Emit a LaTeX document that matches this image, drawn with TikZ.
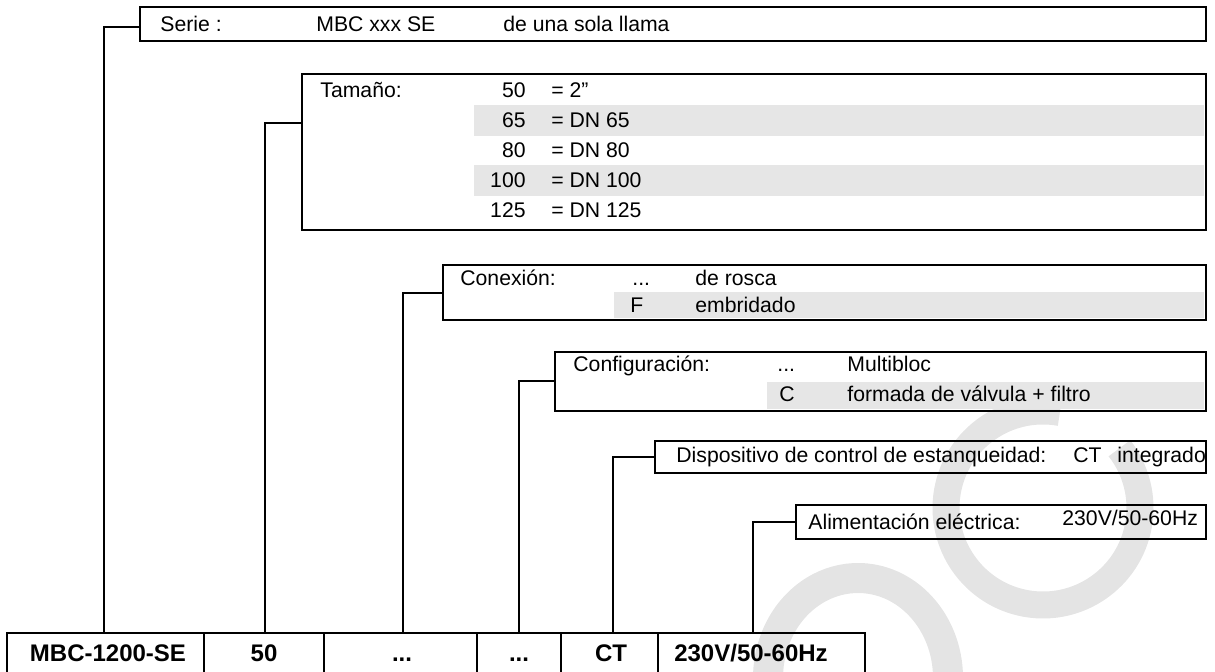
\documentclass[tikz,border=0pt]{standalone}
\usepackage{fontspec}
\setmainfont{Liberation Sans}
\usetikzlibrary{fit}
\definecolor{band}{HTML}{E6E6E6}
\definecolor{wmark}{HTML}{E4E4E4}
\tikzset{
 box/.style={draw=black, line width=1.1pt, inner sep=0pt, rectangle},
 conn/.style={draw=black, line width=1pt},
 cell/.style={draw=black, line width=1pt, inner sep=0pt, rectangle},
 txt/.style={anchor=base west, inner sep=0pt, font=\fontsize{10.6pt}{12pt}\selectfont},
 txtr/.style={txt, anchor=base east},
 tbl/.style={anchor=base, inner sep=0pt, font=\fontsize{12pt}{14pt}\selectfont\bfseries},
 bandfill/.style={fill=band, draw=none},
 wm/.style={draw=wmark, line width=13.5pt},
}
\begin{document}
\begin{tikzpicture}[x=0.5pt,y=-0.5pt]
\useasboundingbox (0,0) rectangle (1215,672);
\begin{scope}
\clip (0,0) rectangle (1215,672);
\draw[wm] (1043,508) ++(-80:97) arc[start angle=-80, end angle=-398, radius=97];
\draw[wm, line width=15pt] (858,678) ++(5:90 and 100) arc[start angle=5, end angle=-185, x radius=90, y radius=100];
\end{scope}
% bands
\fill[bandfill] (474,105) rectangle (1204,136);
\fill[bandfill] (474,165) rectangle (1204,196);
\fill[bandfill] (614,292) rectangle (1204,318);
\fill[bandfill] (767,382) rectangle (1204,409);
% boxes
\node[box, fit={(140,7)(1206,41)}] (serie) {};
\node[box, fit={(302,74)(1206,230)}] (tam) {};
\node[box, fit={(443,265)(1206,320)}] (con) {};
\node[box, fit={(555,352)(1206,411)}] (cfg) {};
\node[box, fit={(655,441)(1206,473)}] (dis) {};
\node[box, fit={(796,505)(1206,539)}] (ali) {};
% table
\node[cell, fit={(7,633)(204,676)}] (k1) {};
\node[cell, fit={(204,633)(324,676)}] (k2) {};
\node[cell, fit={(324,633)(477,676)}] (k3) {};
\node[cell, fit={(477,633)(561,676)}] (k4) {};
\node[cell, fit={(561,633)(658,676)}] (k5) {};
\node[cell, fit={(658,633)(865,676)}] (k6) {};
\node[tbl] (k1t) at (108,662) {MBC-1200-SE};
\node[tbl] (k2t) at (264,662) {50};
\node[tbl] (k3t) at (402,662) {...};
\node[tbl] (k4t) at (519,662) {...};
\node[tbl] (k5t) at (611,662) {CT};
\node[tbl] (k6t) at (751,662) {230V/50-60Hz};
% connectors
\coordinate (j1) at (140,27);  \coordinate (b1) at (103.5,633);
\coordinate (j2) at (302,123); \coordinate (b2) at (265,633);
\coordinate (j3) at (443,293); \coordinate (b3) at (403,633);
\coordinate (j4) at (555,381); \coordinate (b4) at (519,633);
\coordinate (j5) at (655,457); \coordinate (b5) at (613,633);
\coordinate (j6) at (796,522); \coordinate (b6) at (753,633);
\draw[conn] (j1) -| (b1);
\draw[conn] (j2) -| (b2);
\draw[conn] (j3) -| (b3);
\draw[conn] (j4) -| (b4);
\draw[conn] (j5) -| (b5);
\draw[conn] (j6) -| (b6);
% texts
\node[txt] (s1) at (160,32) {Serie :};
\node[txt] (s2) at (316,32) {MBC xxx SE};
\node[txt] (s3) at (503,32) {de una sola llama};
\node[txt] (t0) at (320,98) {Tamaño:};
\node[txtr] (t1) at (526,98) {50};
\node[txtr] (t2) at (526,128) {65};
\node[txtr] (t3) at (526,158) {80};
\node[txtr] (t4) at (526,188) {100};
\node[txtr] (t5) at (526,218) {125};
\node[txt] (u1) at (551,98) {= 2”};
\node[txt] (u2) at (551,128) {= DN 65};
\node[txt] (u3) at (551,158) {= DN 80};
\node[txt] (u4) at (551,188) {= DN 100};
\node[txt] (u5) at (551,218) {= DN 125};
\node[txt] (c0) at (460,286) {Conexión:};
\node[txt] (c1) at (632,286) {...};
\node[txt] (c2) at (695,286) {de rosca};
\node[txt] (c3) at (630,313) {F};
\node[txt] (c4) at (695,313) {embridado};
\node[txt] (g0) at (573,372) {Configuración:};
\node[txt] (g1) at (777,372) {...};
\node[txt] (g2) at (847,372) {Multibloc};
\node[txt] (g3) at (779,402) {C};
\node[txt] (g4) at (847,402) {formada de válvula + filtro};
\node[txt] (d0) at (676,463) {Dispositivo de control de estanqueidad:};
\node[txt] (d1) at (1073,463) {CT};
\node[txt] (d2) at (1117,463) {integrado};
\node[txt] (a0) at (808,530) {Alimentación eléctrica:};
\node[txt] (a1) at (1062,526) {230V/50-60Hz};
\end{tikzpicture}
\end{document}
